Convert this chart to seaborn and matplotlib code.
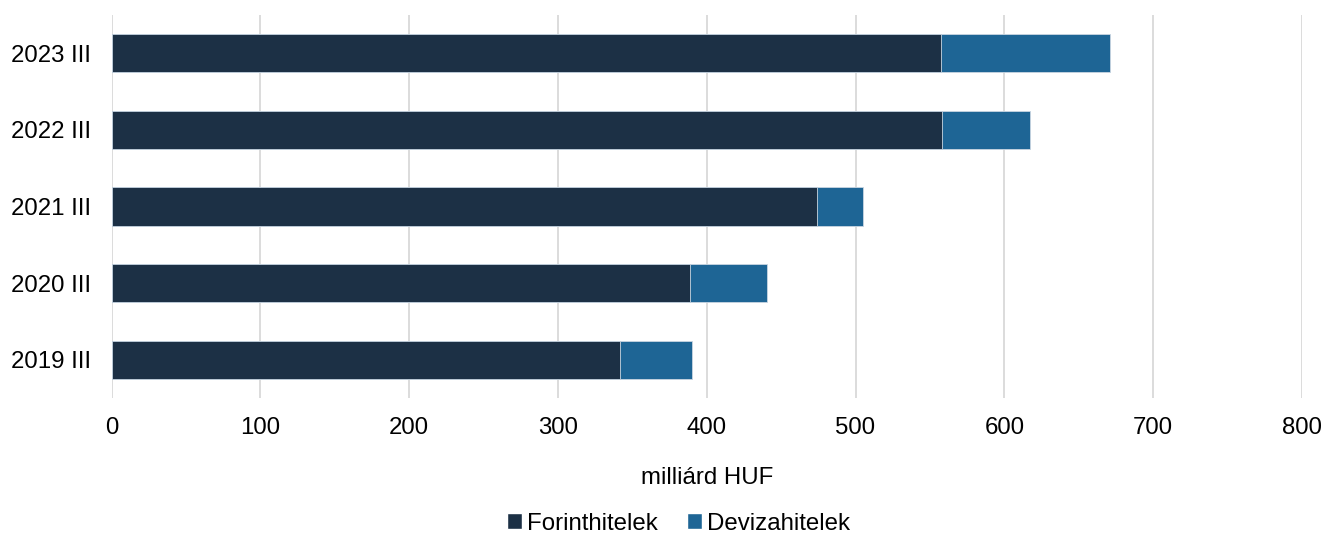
import numpy as np
import pandas as pd
import matplotlib
matplotlib.use("Agg")
import matplotlib.pyplot as plt
from matplotlib.patches import Patch
import seaborn as sns

# values (milliárd HUF)
periods = ["2023 III", "2022 III", "2021 III", "2020 III", "2019 III"]
forint = [557.5, 558.3, 474.0, 388.5, 342.0]
deviza = [113.7, 59.2, 31.2, 52.0, 47.9]

col_forint = "#1c3045"
col_deviza = "#1e6595"

df = pd.DataFrame({"period": periods, "forint": forint, "deviza": deviza})
df["total"] = df["forint"] + df["deviza"]

sns.set_style("white")
plt.rcParams["font.family"] = ["Liberation Sans", "DejaVu Sans"]
plt.rcParams["text.color"] = "black"
fs = 17.3

fig = plt.figure(figsize=(13.26, 5.38), dpi=100)
ax = fig.add_axes([111.5 / 1326, 1 - 398 / 538, (1302 - 111.5) / 1326, 383 / 538])

# stacked look: total in blue, forint drawn over it
sns.barplot(data=df, y="period", x="total", order=periods, color=col_deviza,
            saturation=1, width=0.5, edgecolor="#c9d6e2", linewidth=0.6, ax=ax)
sns.barplot(data=df, y="period", x="forint", order=periods, color=col_forint,
            saturation=1, width=0.5, edgecolor="#c9d6e2", linewidth=0.6, ax=ax)

ax.set_xlim(0, 800)
ax.set_ylim(4.5, -0.5)
ax.set_xticks(np.arange(0, 801, 100))
ax.xaxis.grid(True, color="#d9d9d9", linewidth=1.3)
ax.set_axisbelow(True)
for s in ax.spines.values():
    s.set_visible(False)
ax.tick_params(axis="both", length=0, labelsize=fs, colors="black")
ax.tick_params(axis="x", pad=14)
ax.tick_params(axis="y", pad=15)
ax.set_ylabel("")
ax.set_xlabel("milliárd HUF", fontsize=fs, labelpad=20, color="black")

handles = [Patch(facecolor=col_forint, label="Forinthitelek"),
           Patch(facecolor=col_deviza, label="Devizahitelek")]
fig.legend(handles=handles, loc="lower center", bbox_to_anchor=(0.5115, -0.034),
           ncol=2, frameon=False, fontsize=fs, handlelength=0.65,
           handleheight=0.65, handletextpad=0.2, columnspacing=1.2,
           labelcolor="black")

fig.savefig("out.png", dpi=100)
